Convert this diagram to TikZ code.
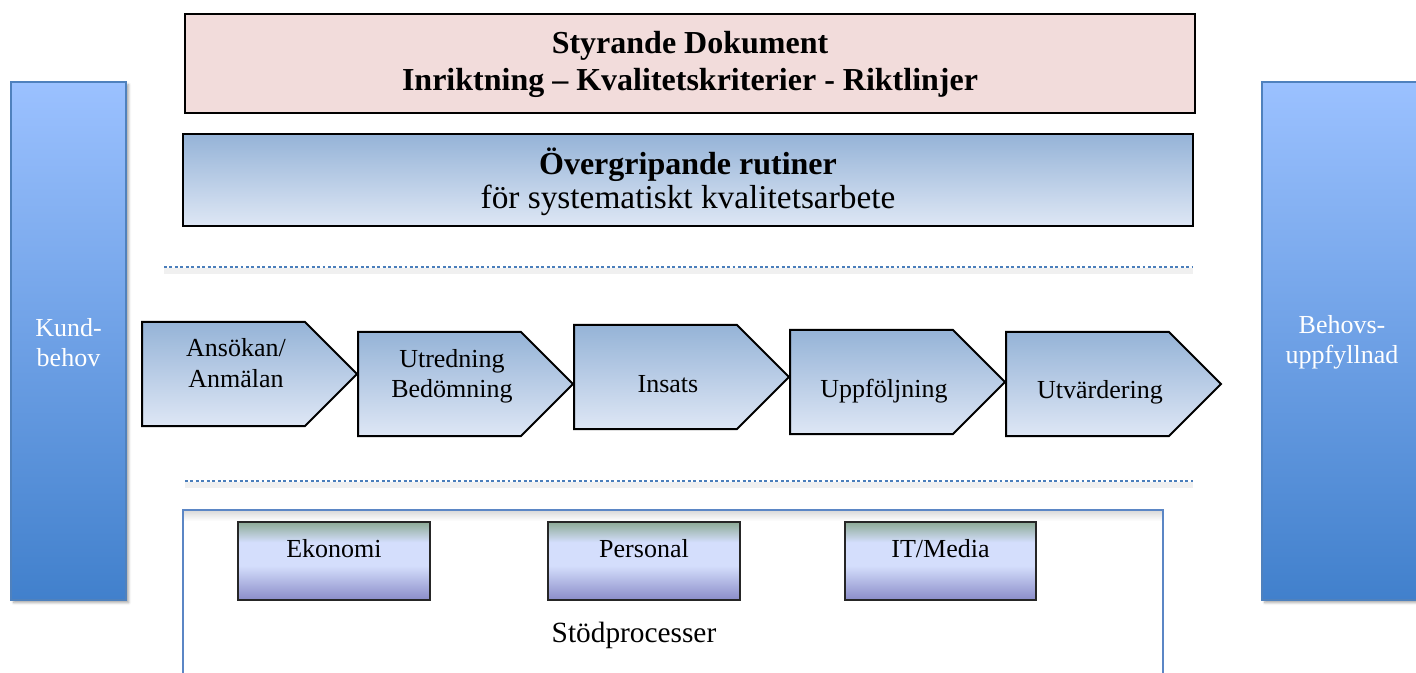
\documentclass[tikz,border=0pt]{standalone}
\usepackage{fontspec}
\setmainfont{Liberation Serif}
\usetikzlibrary{shadows.blur}

\definecolor{pinkfill}{RGB}{242,220,219}
\definecolor{procTop}{RGB}{149,179,215}
\definecolor{procBot}{RGB}{222,231,245}
\definecolor{colTop}{RGB}{155,193,255}
\definecolor{colBot}{RGB}{65,128,204}
\definecolor{colEdge}{RGB}{79,129,189}
\definecolor{dotBlue}{RGB}{74,126,187}
\definecolor{supEdge}{RGB}{91,134,197}
\definecolor{sbTop}{RGB}{140,170,150}
\definecolor{sbMid}{RGB}{212,222,252}
\definecolor{sbBot}{RGB}{138,140,200}

% support-process boxes: dark band at the top, light middle, violet bottom
\pgfdeclareverticalshading{supportshade}{100bp}{color(0bp)=(sbBot); color(25bp)=(sbBot); color(47bp)=(sbMid); color(62bp)=(sbMid); color(75bp)=(sbTop); color(100bp)=(sbTop)}

% centred multi-line text whose baseline is the first line
\newcommand\stack[1]{\begin{tabular}[t]{@{}c@{}}#1\end{tabular}}

\tikzset{
  chev/.style={draw=black, line width=1.5pt, line join=miter, top color=procTop, bottom color=procBot},
  chevtext/.style={anchor=base, inner sep=0pt, font=\fontsize{19.5}{22.5}\selectfont},
  column/.style={draw=colEdge, line width=1.5pt, top color=colTop, bottom color=colBot,
    blur shadow={shadow xshift=2pt, shadow yshift=-2pt, shadow blur steps=6, shadow opacity=35}},
  coltext/.style={anchor=base, inner sep=0pt, text=white, font=\fontsize{19.5}{22.5}\selectfont},
  dotline/.style={dotBlue, line width=2.2pt, dash pattern=on 2.2pt off 1.9pt},
  dotshadow/.style={black, opacity=0.06, line width=4pt},
  supbox/.style={draw=black!85, line width=1pt, shading=supportshade},
  suptext/.style={anchor=base, inner sep=0pt, font=\fontsize{19.5}{22.5}\selectfont},
}

\begin{document}
\begin{tikzpicture}[x=0.75pt, y=-0.75pt]
\useasboundingbox (0,0) rectangle (1416,673);

% side columns
\path[column] (11,82) rectangle (126,600);
\node[coltext] (kund) at (68.5,336) {\stack{Kund-\\behov}};
\path[column] (1262,82) rectangle (1422,600);
\node[coltext] (behovs) at (1342,334) {\stack{Behovs-\\uppfyllnad}};

% steering documents
\path[draw=black, line width=1.5pt, fill=pinkfill] (185,14) rectangle (1195,113);
\node[anchor=base, inner sep=0pt, font=\fontsize{24}{27.75}\selectfont\bfseries] (styr) at (690,54)
  {\stack{Styrande Dokument\\Inriktning – Kvalitetskriterier - Riktlinjer}};

% overall routines
\path[draw=black, line width=1.5pt, top color=procTop, bottom color=procBot] (183,134) rectangle (1193,226);
\node[anchor=base, inner sep=0pt, font=\fontsize{24}{25.5}\selectfont] (rutin) at (688,175)
  {\stack{\bfseries Övergripande rutiner\\\fontsize{25}{25.5}\selectfont för systematiskt kvalitetsarbete}};

% dotted separators
\coordinate (d1a) at (164,267); \coordinate (d1b) at (1193,267);
\coordinate (d2a) at (185,481); \coordinate (d2b) at (1193,481);
\draw[dotshadow] ([yshift=-3pt]d1a) -- ([yshift=-3pt]d1b);
\draw[dotshadow] ([yshift=-3pt]d2a) -- ([yshift=-3pt]d2b);
\draw[dotline] (d1a) -- (d1b);
\draw[dotline] (d2a) -- (d2b);

% process chain
\path[chev] (142,322) -- ++(163,0) -- ++(52,52) -- ++(-52,52) -- ++(-163,0) -- cycle;
\node[chevtext] (ans) at (236,357) {\stack{Ansökan/\\Anmälan}};
\path[chev] (358,332) -- ++(163,0) -- ++(52,52) -- ++(-52,52) -- ++(-163,0) -- cycle;
\node[chevtext] (utr) at (452,368) {\stack{Utredning\\Bedömning}};
\path[chev] (574,325) -- ++(163,0) -- ++(52,52) -- ++(-52,52) -- ++(-163,0) -- cycle;
\node[chevtext] (ins) at (668,392) {Insats};
\path[chev] (790,330) -- ++(163,0) -- ++(52,52) -- ++(-52,52) -- ++(-163,0) -- cycle;
\node[chevtext] (upp) at (884,397) {Uppföljning};
\path[chev] (1006,332) -- ++(163,0) -- ++(52,52) -- ++(-52,52) -- ++(-163,0) -- cycle;
\node[chevtext] (utv) at (1100,398) {Utvärdering};

% support processes
\fill[top color=black!14, bottom color=white] (184,511) rectangle (1162,521);
\draw[supEdge, line width=1.4pt] (183,700) -- (183,510) -- (1163,510) -- (1163,700);
\path[supbox] (238,522) rectangle (430,600);
\node[suptext] (eko) at (334,557) {Ekonomi};
\path[supbox] (548,522) rectangle (740,600);
\node[suptext] (pers) at (644,557) {Personal};
\path[supbox] (845,522) rectangle (1036,600);
\node[suptext] (itm) at (940.5,557) {IT/Media};
\node[anchor=base, inner sep=0pt, font=\fontsize{22}{24}\selectfont] (stod) at (634,642) {Stödprocesser};
\end{tikzpicture}
\end{document}
